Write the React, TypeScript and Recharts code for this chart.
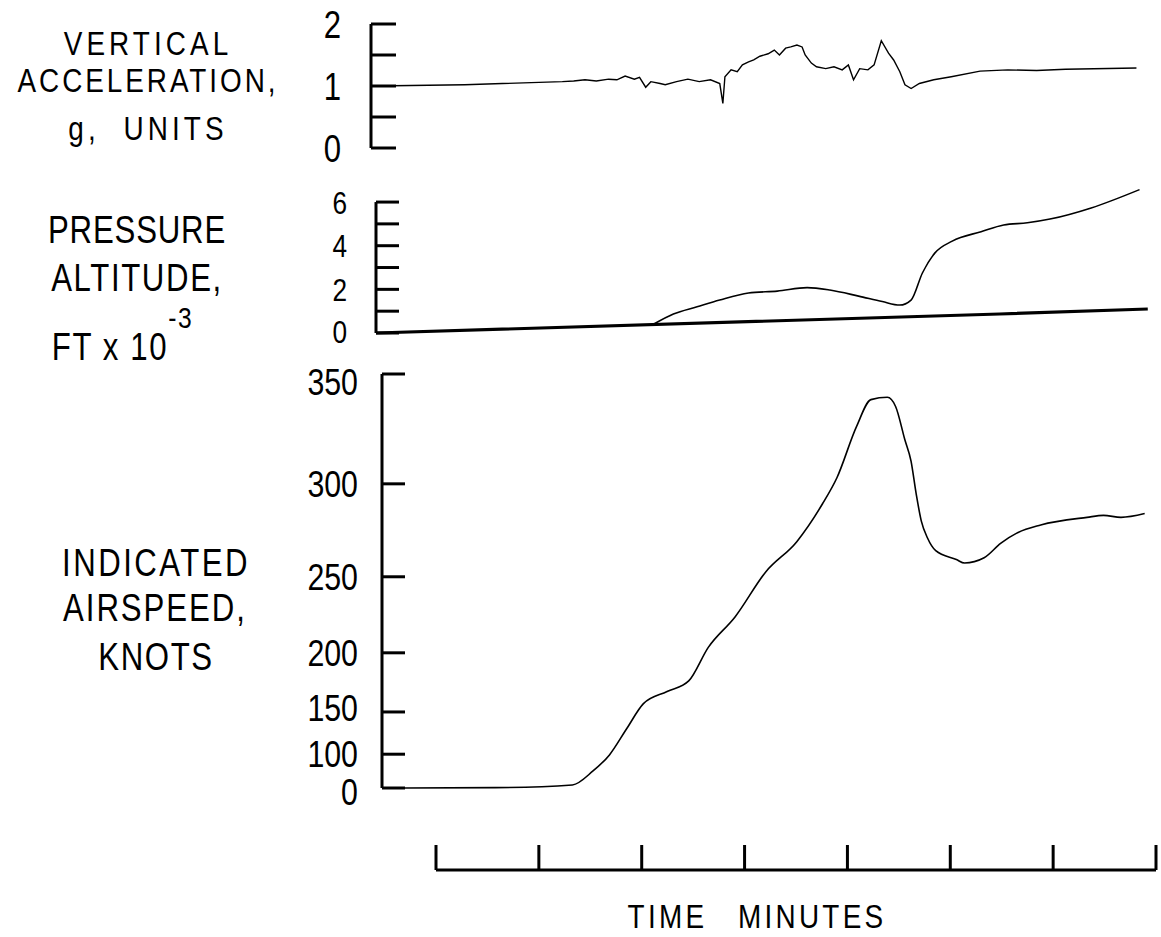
import { LineChart, Line, XAxis, YAxis, ReferenceLine } from "recharts";

const FONT = "'Liberation Sans', Arial, sans-serif";
const NARROW = 0.82; // squeeze Liberation Sans to a narrow face

// time is in minutes, 0 = first mark on the time scale
const accelTime = [
  -0.6, 0.28, 1.23, 1.34, 1.45, 1.56, 1.68, 1.76, 1.84, 1.93, 1.98, 2.04, 2.09, 2.18, 2.23, 2.34,
  2.45, 2.56, 2.67, 2.76, 2.79, 2.81, 2.87, 2.93, 2.98, 3.04, 3.09, 3.15, 3.23, 3.29, 3.34, 3.4,
  3.45, 3.51, 3.56, 3.59, 3.65, 3.7, 3.79, 3.87, 3.95, 4.01, 4.06, 4.12, 4.2, 4.26, 4.33, 4.4,
  4.45, 4.51, 4.56, 4.62, 4.7, 4.84, 5.01, 5.29, 5.56, 5.84, 6.12, 6.81
];
const accelG = [
  1.0, 1.02, 1.07, 1.08, 1.1, 1.08, 1.11, 1.1, 1.16, 1.11, 1.14, 0.98, 1.07, 1.04, 1.02, 1.07,
  1.11, 1.07, 1.1, 1.04, 0.72, 1.15, 1.26, 1.23, 1.34, 1.39, 1.42, 1.48, 1.52, 1.58, 1.5, 1.61,
  1.63, 1.66, 1.63, 1.5, 1.37, 1.31, 1.28, 1.31, 1.26, 1.34, 1.1, 1.28, 1.26, 1.34, 1.73, 1.53,
  1.42, 1.23, 1.02, 0.96, 1.04, 1.1, 1.15, 1.24, 1.26, 1.25, 1.27, 1.29
];

const altTime = [
  2.12, 2.31, 2.54, 2.76, 3.04, 3.32, 3.61, 3.83, 4.11, 4.34, 4.51, 4.62, 4.73, 4.85, 5.02, 5.3,
  5.52, 5.75, 5.97, 6.37, 6.84
];
const altKft = [
  0.41, 0.87, 1.2, 1.51, 1.83, 1.92, 2.08, 1.97, 1.69, 1.44, 1.28, 1.51, 2.75, 3.66, 4.21, 4.64,
  4.95, 5.05, 5.22, 5.73, 6.57
];
const groundTime = [-0.58, 5.48, 6.92];
const groundKft = [0, 0.87, 1.1];

const speedTime = [
  -0.3, 0.58, 1.33, 1.53, 1.69, 1.86, 2.02, 2.25, 2.46, 2.65, 2.91, 3.21, 3.51, 3.76, 3.9, 4.09,
  4.23, 4.39, 4.47, 4.56, 4.62, 4.67, 4.72, 4.78, 4.86, 5.06, 5.14, 5.33, 5.49, 5.66, 5.88, 6.33,
  6.49, 6.66, 6.89
];
const speedKnots = [
  0, 10, 30, 71, 99, 133, 158, 169, 178, 204, 225, 253, 270, 290, 303, 327,
  339, 340, 336, 321, 311, 295, 281, 272, 265, 260, 258, 261, 269, 275, 279, 283,
  284, 283, 285
];

const accelTicks = [0, 0.5, 1, 1.5, 2];
const accelLabels = [0, 1, 2];
const altTicks = [0, 1, 2, 3, 4, 5, 6];
const altLabels = [0, 2, 4, 6];
const speedTicks = [0, 100, 150, 200, 250, 300, 350];
const timeTicks = [0, 1, 2, 3, 4, 5, 6, 7];

const rows = (ts: number[], vs: number[]) => ts.map((t, i) => ({ t, v: vs[i] }));

const accelData = rows(accelTime, accelG);
const altData = rows(altTime, altKft);
const groundData = rows(groundTime, groundKft);
const speedData = rows(speedTime, speedKnots);
const timeData = timeTicks.map((t) => ({ t }));

// airspeed dial scale is square law: plot v^2 on a linear axis
const sq = (v: number) => v * v;

function makeTick(
  labels: number[],
  fontSize: number,
  len: number,
  gap: number,
  fmt = (v: number) => String(v),
  nudge: (v: number) => number = () => 0
) {
  return (props: any) => {
    const { x, y, payload } = props;
    const v = payload.value;
    return (
      <g>
        <line x1={x} y1={y} x2={x + len} y2={y} stroke="#000" strokeWidth={3} />
        {labels.includes(v) && (
          <text
            transform={`translate(${x - gap} ${y + nudge(v)}) scale(${NARROW} 1)`}
            dy="0.36em"
            textAnchor="end"
            fontSize={fontSize}
            fontFamily={FONT}
            fill="#000"
          >
            {fmt(v)}
          </text>
        )}
      </g>
    );
  };
}

function Caption({ text, top, cx, size, spacing, children }: any) {
  return (
    <div
      style={{
        position: "absolute",
        left: cx - 160,
        width: 320,
        top: top - 0.1175 * size,
        textAlign: "center",
        fontSize: size,
        lineHeight: 1,
        letterSpacing: spacing,
        whiteSpace: "pre",
        transform: `scaleX(${NARROW})`,
        transformOrigin: "center",
      }}
    >
      <span style={{ position: "relative" }}>
        {text}
        {children}
      </span>
    </div>
  );
}

export default function App() {
  return (
    <div
      style={{
        position: "absolute",
        left: 0,
        top: 0,
        width: 1161,
        height: 937,
        background: "#fff",
        color: "#000",
        fontFamily: FONT,
        overflow: "hidden",
      }}
    >
      <Caption text="VERTICAL" top={30} cx={148} size={34} spacing={5} />
      <Caption text="ACCELERATION," top={67} cx={148} size={34} spacing={3.6} />
      <Caption text="g,  UNITS" top={115} cx={148} size={34} spacing={5} />

      <Caption text="PRESSURE" top={215} cx={137} size={38} spacing={1} />
      <Caption text="ALTITUDE," top={263} cx={137} size={38} spacing={2} />
      <Caption text="FT x 10" top={332} cx={110} size={38} spacing={2}>
        <span style={{ position: "absolute", left: "100%", fontSize: 30, top: -23, marginLeft: 0 }}>-3</span>
      </Caption>

      <Caption text="INDICATED" top={548} cx={156} size={38} spacing={3} />
      <Caption text="AIRSPEED," top={593} cx={155} size={38} spacing={2.4} />
      <Caption text="KNOTS" top={642} cx={156} size={38} spacing={2} />

      {/* vertical acceleration */}
      <div style={{ position: "absolute", left: 0, top: 0 }}>
        <LineChart width={1161} height={180} margin={{ top: 24, right: 5, bottom: 32, left: 0 }}>
          <XAxis dataKey="t" type="number" domain={[-0.63, 7]} allowDataOverflow hide />
          <YAxis
            type="number"
            width={371}
            domain={[0, 2]}
            ticks={accelTicks}
            interval={0}
            tickSize={0}
            tickMargin={0}
            tickLine={false}
            axisLine={{ stroke: "#000", strokeWidth: 3 }}
            tick={makeTick(accelLabels, 38, 25, 30)}
          />
          <Line data={accelData} dataKey="v" type="linear" stroke="#000" strokeWidth={1.4} dot={false} isAnimationActive={false} />
        </LineChart>
      </div>

      {/* pressure altitude */}
      <div style={{ position: "absolute", left: 0, top: 160 }}>
        <LineChart width={1161} height={205} margin={{ top: 24.6, right: 5, bottom: 32, left: 0 }}>
          <XAxis dataKey="t" type="number" domain={[-0.58, 7]} allowDataOverflow hide />
          <YAxis
            type="number"
            width={376}
            domain={[0, 6.8]}
            ticks={altTicks}
            interval={0}
            tickSize={0}
            tickMargin={0}
            tickLine={false}
            axisLine={false}
            tick={makeTick(altLabels, 32, 23, 29, undefined, (v) => (v === 0 ? -2 : 0))}
          />
          <ReferenceLine
            segment={[{ x: -0.58, y: 0 }, { x: -0.58, y: 6 }]}
            stroke="#000"
            strokeWidth={3}
            ifOverflow="visible"
          />
          <Line data={groundData} dataKey="v" type="linear" stroke="#000" strokeWidth={3.2} dot={false} isAnimationActive={false} />
          <Line data={altData} dataKey="v" type="monotone" stroke="#000" strokeWidth={1.6} dot={false} isAnimationActive={false} />
        </LineChart>
      </div>

      {/* indicated airspeed */}
      <div style={{ position: "absolute", left: 0, top: 345 }}>
        <LineChart width={1161} height={480} margin={{ top: 29, right: 5, bottom: 37, left: 0 }}>
          <XAxis dataKey="t" type="number" domain={[-0.52, 7]} allowDataOverflow hide />
          <YAxis
            type="number"
            width={382}
            domain={[0, sq(350)]}
            ticks={speedTicks.map(sq)}
            interval={0}
            tickSize={0}
            tickMargin={0}
            tickLine={false}
            axisLine={{ stroke: "#000", strokeWidth: 3 }}
            tick={makeTick(
              speedTicks.map(sq),
              37,
              23,
              24,
              (v) => String(Math.round(Math.sqrt(v))),
              (v) => (v === sq(150) ? -4 : v === sq(100) ? -1 : v === sq(350) ? 8 : v === 0 ? 4 : 0)
            )}
          />
          <Line
            data={speedData}
            dataKey={(d: any) => sq(d.v)}
            type="monotone"
            stroke="#000"
            strokeWidth={1.6}
            dot={false}
            isAnimationActive={false}
          />
        </LineChart>
      </div>

      {/* time scale */}
      <div style={{ position: "absolute", left: 0, top: 800 }}>
        <LineChart width={1161} height={137} data={timeData} margin={{ top: 40, right: 5, bottom: 0, left: 436 }}>
          <XAxis
            dataKey="t"
            type="number"
            orientation="top"
            domain={[0, 7]}
            ticks={timeTicks}
            interval={0}
            height={30}
            tickSize={25}
            tickFormatter={() => ""}
            axisLine={{ stroke: "#000", strokeWidth: 3 }}
            tickLine={{ stroke: "#000", strokeWidth: 3 }}
          />
          <YAxis hide domain={[0, 1]} />
        </LineChart>
      </div>

      <div
        style={{
          position: "absolute",
          left: 557,
          width: 400,
          top: 899,
          textAlign: "center",
          fontSize: 34,
          lineHeight: 1,
          letterSpacing: 4,
          wordSpacing: 24,
          whiteSpace: "pre",
          transform: `scaleX(${NARROW})`,
          transformOrigin: "center",
        }}
      >
        TIME MINUTES
      </div>
    </div>
  );
}
